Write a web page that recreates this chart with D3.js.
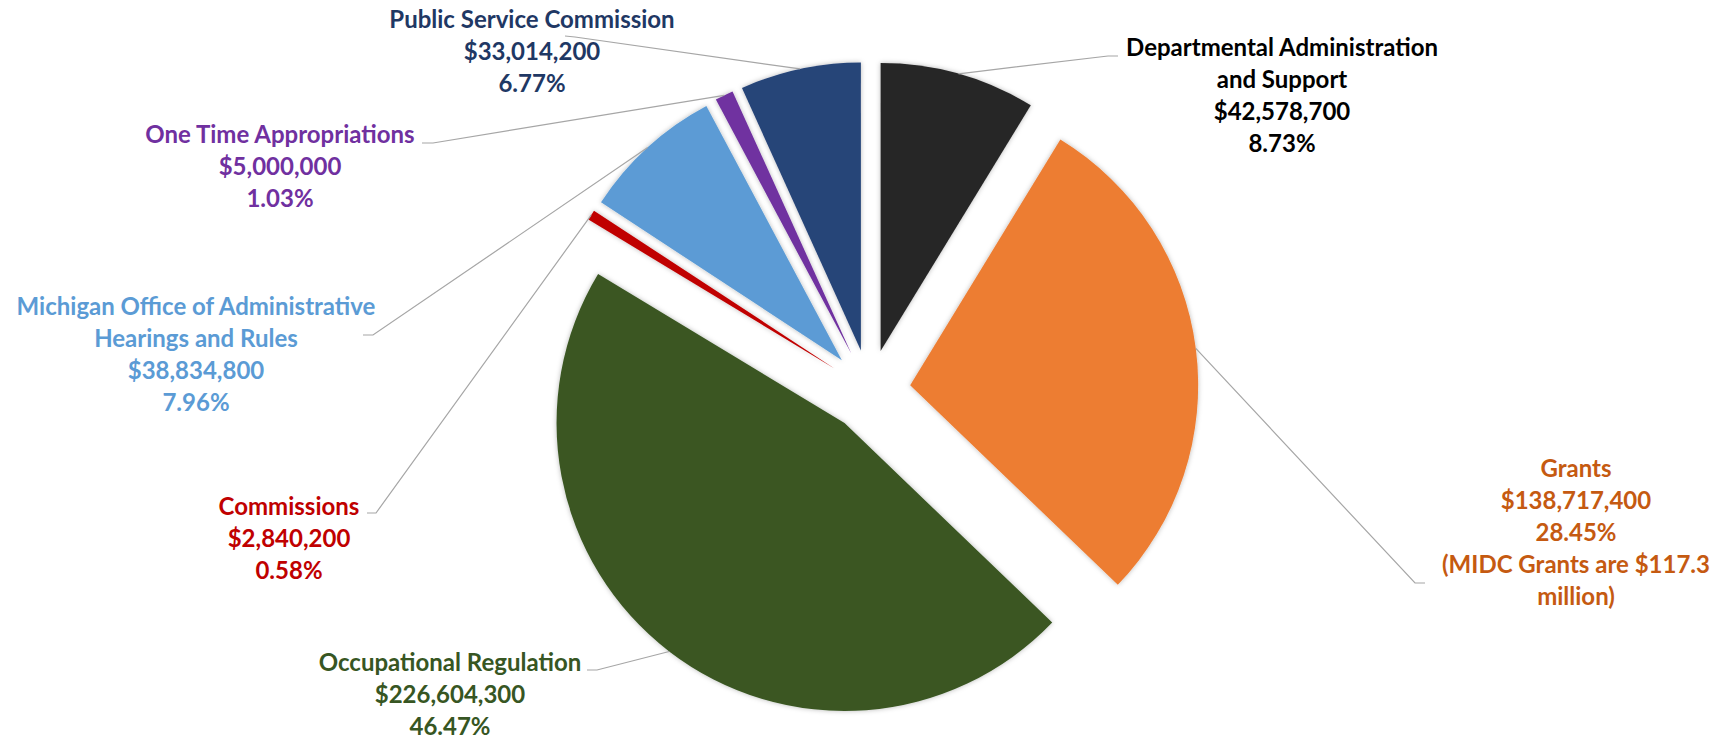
<!DOCTYPE html>
<html>
<head>
<meta charset="utf-8">
<script src="https://cdn.jsdelivr.net/npm/d3@7"></script>
<style>
  html, body { margin: 0; padding: 0; background: #ffffff; }
  #chart { width: 1724px; height: 741px; }
  text { font-family: Lato, "Open Sans", sans-serif; font-weight: 700; }
</style>
</head>
<body>
<div id="chart"></div>
<script>
// Budget by program, clockwise from 12 o'clock
const categories = [
  'Departmental Administration and Support',
  'Grants',
  'Occupational Regulation',
  'Commissions',
  'Michigan Office of Administrative Hearings and Rules',
  'One Time Appropriations',
  'Public Service Commission'
];
const amounts = [42578700, 138717400, 226604300, 2840200, 38834800, 5000000, 33014200];

// label name text, broken the way the source shows it
const nameLines = [
  ['Departmental Administration', 'and Support'],
  ['Grants'],
  ['Occupational Regulation'],
  ['Commissions'],
  ['Michigan Office of Administrative', 'Hearings and Rules'],
  ['One Time Appropriations'],
  ['Public Service Commission']
];
const noteLines = [[], ['(MIDC Grants are $117.3', 'million)'], [], [], [], [], []];

const sliceColors = ['#262626', '#ED7D31', '#3A5723', '#C00000', '#5B9BD5', '#7030A0', '#264478'];
const labelColors = ['#000000', '#C55A11', '#375623', '#C00000', '#5B9BD5', '#7030A0', '#1F3864'];

// manual label placement (center x, first baseline, leader elbow)
const labelLayout = [
  { x: 1282, y: 56, elbow: [[1118, 56], [1108, 56]] },
  { x: 1576, y: 477, elbow: [[1425, 583], [1415, 583]] },
  { x: 450, y: 671, elbow: [[587, 670], [597, 670]] },
  { x: 289, y: 515, elbow: [[367, 513], [376, 513]] },
  { x: 196, y: 315, elbow: [[363, 335], [373, 335]] },
  { x: 280, y: 143, elbow: [[422, 143], [433, 143]] },
  { x: 532, y: 28, elbow: [[565, 36], [575, 37]] }
];

function renderPie() {
  const width = 1724;
  const height = 741;
  const cx = 869.5;
  const cy = 390.5;
  const radius = 288;
  const explode = 41;
  const lineHeight = 32;

  const svg = d3.select('#chart')
    .append('svg')
    .attr('width', width)
    .attr('height', height)
    .attr('viewBox', [0, 0, width, height]);

  const defs = svg.append('defs');
  defs.append('filter')
    .attr('id', 'soft-shadow')
    .attr('x', '-10%').attr('y', '-10%')
    .attr('width', '120%').attr('height', '120%')
    .append('feDropShadow')
    .attr('dx', 0).attr('dy', 0)
    .attr('stdDeviation', 2.5)
    .attr('flood-color', '#000')
    .attr('flood-opacity', 0.28);

  const total = d3.sum(amounts);
  const pct = d3.format('.2%');
  const money = d => '$' + d3.format(',')(d);

  const pie = d3.pie()
    .sort(null)
    .value(d => d)
    .startAngle(0)
    .endAngle(2 * Math.PI);

  const arcs = pie(amounts);

  const arc = d3.arc().innerRadius(0).outerRadius(radius);
  const rim = d3.arc().innerRadius(radius).outerRadius(radius);

  const offset = d => {
    const a = (d.startAngle + d.endAngle) / 2;
    return [explode * Math.sin(a), -explode * Math.cos(a)];
  };

  const g = svg.append('g').attr('transform', `translate(${cx},${cy})`);

  // Slices
  g.selectAll('path.slice')
    .data(arcs)
    .join('path')
    .attr('class', 'slice')
    .attr('d', arc)
    .attr('transform', d => `translate(${offset(d)})`)
    .attr('fill', (d, i) => sliceColors[i])
    .attr('filter', 'url(#soft-shadow)');

  // Leader lines
  const line = d3.line();
  svg.append('g')
    .selectAll('path.leader')
    .data(arcs)
    .join('path')
    .attr('class', 'leader')
    .attr('fill', 'none')
    .attr('stroke', '#A6A6A6')
    .attr('stroke-width', 1.2)
    .attr('d', (d, i) => {
      const [ox, oy] = offset(d);
      const [rx, ry] = rim.centroid(d);
      const start = [cx + ox + rx, cy + oy + ry];
      const el = labelLayout[i].elbow;
      return line([el[0], el[1], start]);
    });

  // Labels
  const labels = svg.append('g')
    .selectAll('text.label')
    .data(arcs)
    .join('text')
    .attr('class', 'label')
    .attr('text-anchor', 'middle')
    .attr('font-size', 24)
    .attr('fill', (d, i) => labelColors[i]);

  labels.each(function(d, i) {
    const rows = nameLines[i]
      .concat([money(d.data), pct(d.data / total)])
      .concat(noteLines[i]);
    d3.select(this).selectAll('tspan')
      .data(rows)
      .join('tspan')
      .attr('x', labelLayout[i].x)
      .attr('y', (r, k) => labelLayout[i].y + k * lineHeight)
      .text(r => r);
  });
}

renderPie();
</script>
</body>
</html>
